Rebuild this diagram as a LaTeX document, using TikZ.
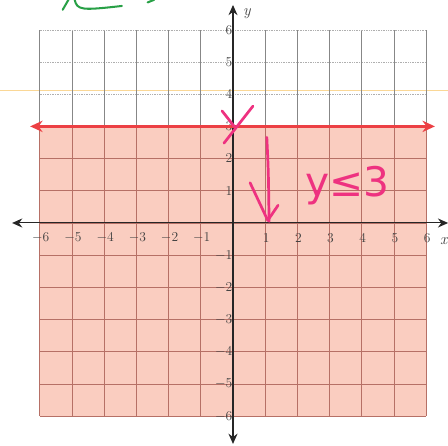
\documentclass[tikz,border=0pt]{standalone}
\usepackage{fontspec}
\usetikzlibrary{arrows.meta}
\definecolor{salmonfill}{RGB}{250,205,192}
\definecolor{gridbrown}{RGB}{182,112,102}
\definecolor{gridgrey}{RGB}{135,135,135}
\definecolor{gridlight}{RGB}{175,175,175}
\definecolor{redline}{RGB}{236,64,68}
\definecolor{pinkink}{RGB}{238,50,128}
\definecolor{greenink}{RGB}{40,160,70}
\definecolor{scanline}{RGB}{250,215,150}
\newfontfamily\handfont{DejaVu Sans}
\tikzset{
  lab/.style={font=\fontsize{13}{15}\selectfont, inner sep=1pt, text=black!75},
  axisline/.style={draw=black!85, line width=0.9pt, {Stealth[length=9pt,width=8pt]}-{Stealth[length=9pt,width=8pt]}},
  ink/.style={draw=pinkink, line width=2.4pt, line cap=round, line join=round},
  greenstroke/.style={draw=greenink, line width=1.8pt, line cap=round},
}
\begin{document}
\begin{tikzpicture}[x=1cm, y=1cm]
\useasboundingbox (-7.236,-6.925) rectangle (6.677,6.925);
% scan artefact line
\draw[scanline, line width=0.5pt] (-7.236,4.13) -- (6.677,4.13);
% shaded region
\fill[salmonfill] (-6,-6) rectangle (6,3);
% grid: unshaded part
\draw[gridlight, line width=0.5pt, densely dotted] (-6,3) grid[xstep=20, ystep=1] (6,6);
\draw[gridgrey, line width=0.6pt] (-6,3) grid[xstep=1, ystep=20] (6,6);
\draw[gridlight, line width=0.5pt, densely dotted] (-6,6) -- (6,6);
% grid: shaded part
\draw[gridbrown, line width=0.7pt] (-6,-6) grid (6,3);
% axes
\coordinate (xl) at (-6.86,0); \coordinate (xr) at (6.68,0);
\coordinate (yt) at (0,6.77); \coordinate (yb) at (0,-6.86);
\draw[axisline] (yb) -- (yt);
\draw[axisline] (xl) -- (xr);
% tick labels
\foreach \i in {-6,-5,-4,-3,-2,-1,1,2,3,4,5,6}{
  \node[lab] (xt\i) at (\i+0.03,-0.47) {$\i$};
  \node[lab, anchor=east] (yt\i) at (0.02,\i) {$\i$};
}
\node[lab, font=\fontsize{14}{16}\selectfont\itshape] (ylab) at (0.43,6.5) {y};
\node[lab, font=\fontsize{14}{16}\selectfont\itshape, anchor=east, inner sep=0.5pt] (xlab) at (6.677,-0.55) {x};
% boundary line y = 3
\coordinate (rl) at (-6.3,3); \coordinate (rr) at (6.27,3);
\draw[redline, line width=2.4pt, {Stealth[length=11pt,width=10pt]}-{Stealth[length=11pt,width=10pt]}] (rl) -- (rr);
% pink annotations: check mark at (0,3)
\draw[ink] (-0.34,3.48) -- (0.03,3.01);
\draw[ink] (0.62,3.63) -- (-0.28,2.48);
% down arrow
\draw[ink] (1.05,2.66) .. controls (1.1,1.6) .. (1.12,0.05);
\draw[ink] (0.53,1.25) -- (1.08,0.08) -- (1.4,0.55);
% inequality text
\node[font=\handfont\fontsize{36}{40}\selectfont, text=pinkink, inner sep=0pt] (ineq) at (3.55,1.15) {y≤3};
% green scribble at top
\draw[greenstroke] (-5.29,6.62) -- (-5.1,6.95);
\draw[greenstroke] (-4.92,6.95) .. controls (-4.85,6.6) and (-4.7,6.6) .. (-3.45,6.74);
\draw[greenstroke] (-2.65,6.85) -- (-2.45,6.93);
\end{tikzpicture}
\end{document}
